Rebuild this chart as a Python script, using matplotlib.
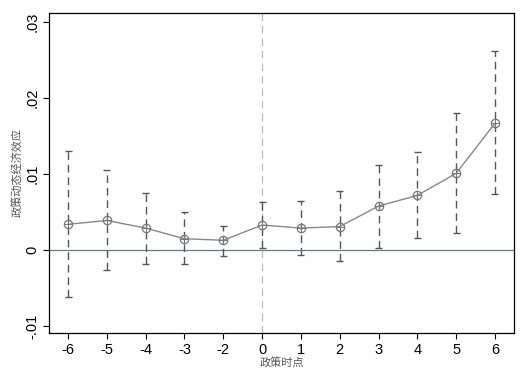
import matplotlib
matplotlib.use("Agg")
import matplotlib.pyplot as plt
from matplotlib.ticker import FixedLocator, FixedFormatter

period_labels = ["-6", "-5", "-4", "-3", "-2", "0", "1", "2", "3", "4", "5", "6"]
coef = [0.0034, 0.0039, 0.0029, 0.0015, 0.0013, 0.0033, 0.0029, 0.0031, 0.0058, 0.0072, 0.0101, 0.0167]
upper = [0.0130, 0.0105, 0.0075, 0.0050, 0.0032, 0.0063, 0.0064, 0.0078, 0.0112, 0.0129, 0.0181, 0.0262]
lower = [-0.0061, -0.0026, -0.0018, -0.0018, -0.0008, 0.0003, -0.0007, -0.0014, 0.0003, 0.0016, 0.0022, 0.0074]
yticks = [-0.01, 0, 0.01, 0.02, 0.03]
ytick_labels = ["-.01", "0", ".01", ".02", ".03"]
xlabel = "政策时点"
ylabel = "政策动态经济效应"

pos = list(range(len(period_labels)))
zero_pos = period_labels.index("0")

fig = plt.figure(figsize=(5.28, 3.84), dpi=100)
ax = fig.add_axes([0.0928, 0.1328, 0.8807, 0.8335])

ax.axhline(0, color="#5f7f93", lw=0.9, zorder=1)
ax.axvline(zero_pos, color="#bbbbbb", lw=0.9, ls=(0, (6, 4)), zorder=1)

ax.vlines(pos, lower, upper, colors="#555555", lw=1.0, linestyles=(0, (5.5, 3.5)), zorder=2)
capw = 0.09
ax.hlines(upper, [p - capw for p in pos], [p + capw for p in pos], colors="#555555", lw=1.0, zorder=2)
ax.hlines(lower, [p - capw for p in pos], [p + capw for p in pos], colors="#555555", lw=1.0, zorder=2)

ax.plot(pos, coef, color="#888888", lw=1.0, zorder=3)
ax.plot(pos, coef, ls="none", marker="o", ms=6, mfc="none", mec="#777777", mew=0.9, zorder=4)
ax.plot(pos, coef, ls="none", marker="+", ms=6, mec="#777777", mew=0.7, zorder=4)

ax.set_xlim(-0.49, len(pos) - 1 + 0.49)
ax.set_ylim(-0.0109, 0.0312)
ax.xaxis.set_major_locator(FixedLocator(pos))
ax.set_xticklabels(period_labels, fontsize=10.5, family="Liberation Sans")
ax.yaxis.set_major_locator(FixedLocator(yticks))
ax.yaxis.set_major_formatter(FixedFormatter(ytick_labels))
for lab in ax.get_yticklabels():
    lab.set_rotation(90)
    lab.set_va("center")
    lab.set_fontsize(10.5)
    lab.set_family("Liberation Sans")
ax.tick_params(direction="out", length=4, width=0.8, color="black", pad=3)
for s in ax.spines.values():
    s.set_linewidth(0.9)
    s.set_color("black")

ax.set_xlabel(xlabel, fontsize=8, family=["Noto Sans CJK SC"], color="#555555", labelpad=1)
ax.set_ylabel(ylabel, fontsize=8, family=["Noto Sans CJK SC"], color="#555555", labelpad=1)

fig.savefig("out.png", dpi=100, facecolor="white")
